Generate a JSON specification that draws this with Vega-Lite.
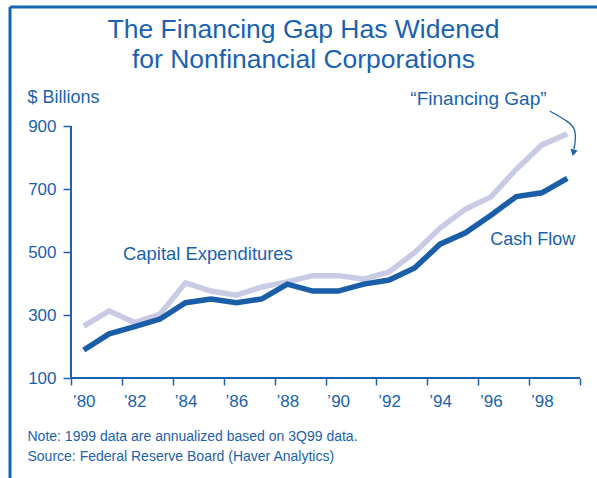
{
  "$schema": "https://vega.github.io/schema/vega-lite/v6.json",
  "width": 587,
  "height": 471,
  "autosize": {"type": "none"},
  "padding": {"left": 10, "top": 7, "right": 0, "bottom": 0},
  "background": "white",
  "config": {"view": {"stroke": null}, "font": "Liberation Sans", "axis": {"grid": false}},
  "title": {
    "text": ["The Financing Gap Has Widened", "for Nonfinancial Corporations"],
    "fontSize": 26.5, "font": "Liberation Sans", "fontWeight": "normal", "color": "#1a62ad",
    "anchor": "middle", "frame": "group", "offset": -68, "lineHeight": 30
  },
  "datasets": {
    "series": [
      {"year": 1980, "value": 265, "series": "Capital Expenditures"},
      {"year": 1981, "value": 313, "series": "Capital Expenditures"},
      {"year": 1982, "value": 276, "series": "Capital Expenditures"},
      {"year": 1983, "value": 303, "series": "Capital Expenditures"},
      {"year": 1984, "value": 402, "series": "Capital Expenditures"},
      {"year": 1985, "value": 376, "series": "Capital Expenditures"},
      {"year": 1986, "value": 363, "series": "Capital Expenditures"},
      {"year": 1987, "value": 389, "series": "Capital Expenditures"},
      {"year": 1988, "value": 405, "series": "Capital Expenditures"},
      {"year": 1989, "value": 425, "series": "Capital Expenditures"},
      {"year": 1990, "value": 425, "series": "Capital Expenditures"},
      {"year": 1991, "value": 414, "series": "Capital Expenditures"},
      {"year": 1992, "value": 437, "series": "Capital Expenditures"},
      {"year": 1993, "value": 498, "series": "Capital Expenditures"},
      {"year": 1994, "value": 576, "series": "Capital Expenditures"},
      {"year": 1995, "value": 636, "series": "Capital Expenditures"},
      {"year": 1996, "value": 675, "series": "Capital Expenditures"},
      {"year": 1997, "value": 763, "series": "Capital Expenditures"},
      {"year": 1998, "value": 840, "series": "Capital Expenditures"},
      {"year": 1999, "value": 875, "series": "Capital Expenditures"},
      {"year": 1980, "value": 189, "series": "Cash Flow"},
      {"year": 1981, "value": 240, "series": "Cash Flow"},
      {"year": 1982, "value": 263, "series": "Cash Flow"},
      {"year": 1983, "value": 287, "series": "Cash Flow"},
      {"year": 1984, "value": 339, "series": "Cash Flow"},
      {"year": 1985, "value": 351, "series": "Cash Flow"},
      {"year": 1986, "value": 339, "series": "Cash Flow"},
      {"year": 1987, "value": 351, "series": "Cash Flow"},
      {"year": 1988, "value": 398, "series": "Cash Flow"},
      {"year": 1989, "value": 376, "series": "Cash Flow"},
      {"year": 1990, "value": 376, "series": "Cash Flow"},
      {"year": 1991, "value": 398, "series": "Cash Flow"},
      {"year": 1992, "value": 411, "series": "Cash Flow"},
      {"year": 1993, "value": 449, "series": "Cash Flow"},
      {"year": 1994, "value": 525, "series": "Cash Flow"},
      {"year": 1995, "value": 561, "series": "Cash Flow"},
      {"year": 1996, "value": 617, "series": "Cash Flow"},
      {"year": 1997, "value": 676, "series": "Cash Flow"},
      {"year": 1998, "value": 688, "series": "Cash Flow"},
      {"year": 1999, "value": 734, "series": "Cash Flow"}
    ],
    "arrow": [
      {"x": 1998.32, "y": 947, "step": 1},
      {"x": 1999.1, "y": 912, "step": 2},
      {"x": 1999.33, "y": 888, "step": 3},
      {"x": 1999.32, "y": 850, "step": 4},
      {"x": 1999.26, "y": 826, "step": 5}
    ],
    "one": [{}]
  },
  "layer": [
    {
      "data": {"name": "series"},
      "transform": [{"filter": "datum.series == 'Capital Expenditures'"}],
      "mark": {"type": "line", "color": "#c9cbe5", "strokeWidth": 5.5, "strokeCap": "butt"},
      "encoding": {
        "x": {
          "field": "year", "type": "quantitative",
          "scale": {"domain": [1977.103, 2000.168], "nice": false, "zero": false},
          "axis": {
            "orient": "bottom", "offset": -100,
            "values": [1979.5, 1980.5, 1981.5, 1982.5, 1983.5, 1984.5, 1985.5, 1986.5, 1987.5, 1988.5, 1989.5, 1990.5, 1991.5, 1992.5, 1993.5, 1994.5, 1995.5, 1996.5, 1997.5, 1998.5, 1999.5],
            "domain": false, "ticks": true, "tickColor": "#1a62ad", "tickSize": 7, "tickWidth": 1.5,
            "labelExpr": "(datum.value < 1999 && (datum.value + 0.5) % 2 == 0) ? '’' + slice(toString(datum.value + 0.5), 2) : ''",
            "labelOffset": 12.7, "labelFontSize": 17, "labelColor": "#1a62ad", "labelFont": "Liberation Sans",
            "labelPadding": 8, "labelFlush": false, "labelOverlap": false, "labelBound": false,
            "title": ["Note: 1999 data are annualized based on 3Q99 data.", "Source: Federal Reserve Board (Haver Analytics)"],
            "titleX": 17, "titleY": 51, "titleAlign": "left", "titleBaseline": "top", "titleAngle": 0,
            "titleFontSize": 14, "titleFontWeight": "normal", "titleColor": "#1a62ad", "titleFont": "Liberation Sans", "titleLineHeight": 20
          }
        },
        "y": {
          "field": "value", "type": "quantitative",
          "scale": {"domain": [-217.46, 1277.78], "nice": false, "zero": false},
          "axis": {
            "orient": "left", "offset": -61,
            "values": [100, 300, 500, 700, 900],
            "domain": false, "tickColor": "#1a62ad", "tickSize": 8, "tickWidth": 1.5,
            "labelFontSize": 17, "labelColor": "#1a62ad", "labelFont": "Liberation Sans", "labelPadding": 7,
            "labelFlush": false, "labelOverlap": false, "labelBound": false,
            "title": "$ Billions", "titleAngle": 0, "titleX": -44, "titleY": 90, "titleAlign": "left", "titleBaseline": "middle",
            "titleFontSize": 18, "titleFontWeight": "normal", "titleColor": "#1a62ad", "titleFont": "Liberation Sans"
          }
        }
      }
    },
    {
      "data": {"name": "series"},
      "transform": [{"filter": "datum.series == 'Cash Flow'"}],
      "mark": {"type": "line", "color": "#1a5ea7", "strokeWidth": 5.5, "strokeCap": "butt"},
      "encoding": {
        "x": {"field": "year", "type": "quantitative"},
        "y": {"field": "value", "type": "quantitative"}
      }
    },
    {
      "data": {"name": "one"},
      "mark": {"type": "rule", "color": "#1a62ad", "strokeWidth": 2},
      "encoding": {
        "x": {"datum": 1979.5},
        "y": {"datum": 100},
        "y2": {"datum": 900}
      }
    },
    {
      "data": {"name": "one"},
      "mark": {"type": "rule", "color": "#1a62ad", "strokeWidth": 2},
      "encoding": {
        "x": {"datum": 1979.5},
        "x2": {"datum": 1999.5},
        "y": {"datum": 100}
      }
    },
    {
      "data": {"name": "one"},
      "mark": {"type": "rule", "color": "#1565b0", "strokeWidth": 3},
      "encoding": {
        "x": {"datum": 1977.103},
        "x2": {"datum": 2000.168},
        "y": {"datum": 1277.78}
      }
    },
    {
      "data": {"name": "one"},
      "mark": {"type": "rule", "color": "#1565b0", "strokeWidth": 3},
      "encoding": {
        "x": {"datum": 1977.103},
        "y": {"datum": -217.46},
        "y2": {"datum": 1277.78}
      }
    },
    {
      "data": {"name": "arrow"},
      "mark": {"type": "line", "color": "#1a62ad", "strokeWidth": 1.3, "interpolate": "basis"},
      "encoding": {
        "x": {"field": "x", "type": "quantitative"},
        "y": {"field": "y", "type": "quantitative"},
        "order": {"field": "step"}
      }
    },
    {
      "data": {"name": "one"},
      "mark": {"type": "point", "shape": "triangle-down", "filled": true, "color": "#1a62ad", "size": 55, "opacity": 1, "angle": 12},
      "encoding": {
        "x": {"datum": 1999.24},
        "y": {"datum": 815}
      }
    },
    {
      "data": {"name": "one"},
      "mark": {"type": "text", "text": "Capital Expenditures", "fontSize": 18.4, "color": "#1a62ad", "align": "center", "baseline": "middle", "font": "Liberation Sans"},
      "encoding": {"x": {"datum": 1984.88}, "y": {"datum": 493}}
    },
    {
      "data": {"name": "one"},
      "mark": {"type": "text", "text": "Cash Flow", "fontSize": 18, "color": "#1a62ad", "align": "center", "baseline": "middle", "font": "Liberation Sans"},
      "encoding": {"x": {"datum": 1997.64}, "y": {"datum": 537}}
    },
    {
      "data": {"name": "one"},
      "mark": {"type": "text", "text": "“Financing Gap”", "fontSize": 19, "color": "#1a62ad", "align": "center", "baseline": "middle", "font": "Liberation Sans"},
      "encoding": {"x": {"datum": 1995.51}, "y": {"datum": 985}}
    }
  ]
}
